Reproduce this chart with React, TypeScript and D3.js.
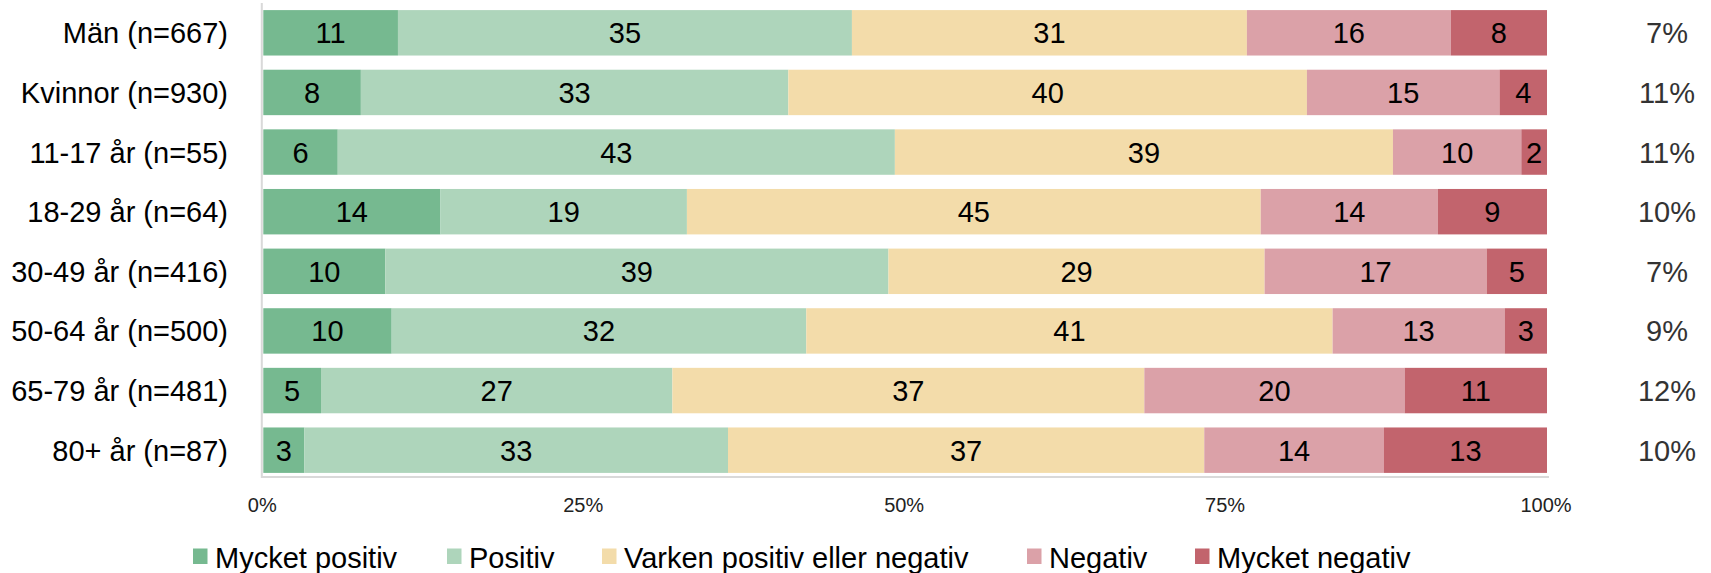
import { useEffect, useRef } from 'react';
import * as d3 from 'd3';

const categories = [
  'Män (n=667)',
  'Kvinnor (n=930)',
  '11-17 år (n=55)',
  '18-29 år (n=64)',
  '30-49 år (n=416)',
  '50-64 år (n=500)',
  '65-79 år (n=481)',
  '80+ år (n=87)',
];

const seriesNames = ['Mycket positiv', 'Positiv', 'Varken positiv eller negativ', 'Negativ', 'Mycket negativ'];
const mycketPositiv = [10.5, 7.6, 5.8, 13.8, 9.5, 10.0, 4.5, 3.2];
const positiv = [35.4, 33.3, 43.4, 19.2, 39.2, 32.3, 27.4, 33.0];
const varken = [30.8, 40.4, 38.8, 44.7, 29.3, 41.0, 36.8, 37.1];
const negativ = [15.9, 15.0, 10.0, 13.8, 17.3, 13.4, 20.3, 14.0];
const mycketNegativ = [7.5, 3.7, 2.0, 8.5, 4.7, 3.3, 11.1, 12.7];

// andel "vet ej" i högerkolumnen
const vetEj = [7, 11, 11, 10, 7, 9, 12, 10];

const xTicks = [0, 0.25, 0.5, 0.75, 1];
const colors = ['#76b990', '#aed5bb', '#f3dcaa', '#dba1a8', '#c2646d'];
const legendX = [193, 447, 602, 1027, 1195];

const FONT = '"Liberation Sans", Arial, sans-serif';

const App = () => {
  const svgRef = useRef<SVGSVGElement>(null);

  useEffect(() => {
    if (!svgRef.current) return;
    const width = 1711;
    const height = 573;

    const svg = d3.select(svgRef.current);
    svg.selectAll('*').remove();
    svg.attr('width', width).attr('height', height).style('font-family', FONT);

    const rows = categories.map((c, i) => ({
      cat: c,
      [seriesNames[0]]: mycketPositiv[i],
      [seriesNames[1]]: positiv[i],
      [seriesNames[2]]: varken[i],
      [seriesNames[3]]: negativ[i],
      [seriesNames[4]]: mycketNegativ[i],
    }));

    const stack = d3.stack<any>().keys(seriesNames).offset(d3.stackOffsetExpand);
    const stacked = stack(rows);

    const x = d3.scaleLinear().domain([0, 1]).range([263.3, 1547]);
    const y = d3.scaleBand().domain(categories).range([3, 480]).paddingInner(0.238).paddingOuter(0.119);

    const layers = svg.append('g')
      .selectAll('g')
      .data(stacked)
      .enter()
      .append('g')
      .attr('fill', (_d, i) => colors[i]);

    layers.selectAll('rect')
      .data(d => d)
      .enter()
      .append('rect')
      .attr('x', d => x(d[0]))
      .attr('y', d => y(d.data.cat)!)
      .attr('width', d => x(d[1]) - x(d[0]))
      .attr('height', y.bandwidth());

    // värdeetiketter
    stacked.forEach(layer => {
      svg.append('g')
        .selectAll('text')
        .data(layer)
        .enter()
        .append('text')
        .attr('x', d => (x(d[0]) + x(d[1])) / 2)
        .attr('y', d => y(d.data.cat)! + y.bandwidth() / 2)
        .attr('dy', '0.36em')
        .attr('text-anchor', 'middle')
        .style('font-size', '29px')
        .style('fill', '#000')
        .text(d => Math.round(d.data[layer.key]));
    });

    // axellinjer
    svg.append('line')
      .attr('x1', x(0) - 1.5).attr('x2', x(0) - 1.5)
      .attr('y1', 3).attr('y2', 478)
      .attr('stroke', '#d9d9d9').attr('stroke-width', 2);
    svg.append('line')
      .attr('x1', x(0) - 2).attr('x2', x(1) + 2)
      .attr('y1', 477).attr('y2', 477)
      .attr('stroke', '#d9d9d9').attr('stroke-width', 2);

    // x-tick-etiketter
    svg.append('g')
      .selectAll('text')
      .data(xTicks)
      .enter()
      .append('text')
      .attr('x', d => x(d) - 1)
      .attr('y', 512)
      .attr('text-anchor', 'middle')
      .style('font-size', '20px')
      .style('fill', '#222')
      .text(d => d3.format('.0%')(d));

    // kategorietiketter
    svg.append('g')
      .selectAll('text')
      .data(categories)
      .enter()
      .append('text')
      .attr('x', 228)
      .attr('y', d => y(d)! + y.bandwidth() / 2)
      .attr('dy', '0.36em')
      .attr('text-anchor', 'end')
      .style('font-size', '29px')
      .style('fill', '#000')
      .text(d => d);

    // högerkolumn
    svg.append('g')
      .selectAll('text')
      .data(vetEj)
      .enter()
      .append('text')
      .attr('x', 1667)
      .attr('y', (_d, i) => y(categories[i])! + y.bandwidth() / 2)
      .attr('dy', '0.36em')
      .attr('text-anchor', 'middle')
      .style('font-size', '29px')
      .style('fill', '#333')
      .text(d => `${d}%`);

    // legend
    const legend = svg.append('g')
      .selectAll('g')
      .data(seriesNames)
      .enter()
      .append('g')
      .attr('transform', (_d, i) => `translate(${legendX[i]},0)`);
    legend.append('rect')
      .attr('x', 0).attr('y', 548.5)
      .attr('width', 14.5).attr('height', 15.5)
      .attr('fill', (_d, i) => colors[i]);
    legend.append('text')
      .attr('x', 22)
      .attr('y', 567.5)
      .style('font-size', '29px')
      .style('fill', '#000')
      .text(d => d);
  }, []);

  return (
    <div style={{ position: 'absolute', left: 0, top: 0, background: '#fff' }}>
      <svg ref={svgRef}></svg>
    </div>
  );
};

export default App;
